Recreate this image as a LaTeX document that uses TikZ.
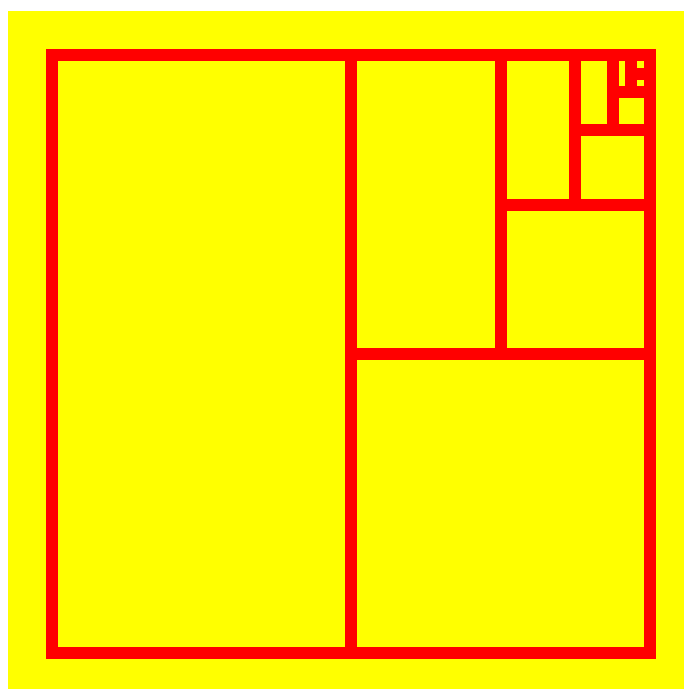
\documentclass[tikz,border=0pt]{standalone}
\usetikzlibrary{positioning}
\definecolor{paperyellow}{RGB}{255,255,0}
\definecolor{splitred}{RGB}{255,0,0}

\begin{document}
\begin{tikzpicture}[x=1pt, y=-1pt,
    paper/.style={fill=paperyellow},
    split/.style={draw=splitred, line width=12pt}]

  \useasboundingbox (0,0) rectangle (684,689);
  \fill[paper] (8,11) rectangle (684,689);

  % outer square
  \draw[split] (52,55) rectangle (650,653);

  % halving, vertical then horizontal
  \draw[split] (351,55) -- (351,653);
  \draw[split] (351,354) -- (650,354);
  \draw[split] (500.5,55) -- (500.5,354);
  \draw[split] (500.5,204.5) -- (650,204.5);
  \draw[split] (575.25,55) -- (575.25,204.5);
  \draw[split] (575.25,129.75) -- (650,129.75);
  \draw[split] (612.6,55) -- (612.6,129.75);
  \draw[split] (612.6,92.4) -- (650,92.4);
  \draw[split] (631.3,55) -- (631.3,92.4);
  \draw[split] (631.3,73.7) -- (650,73.7);
\end{tikzpicture}
\end{document}
